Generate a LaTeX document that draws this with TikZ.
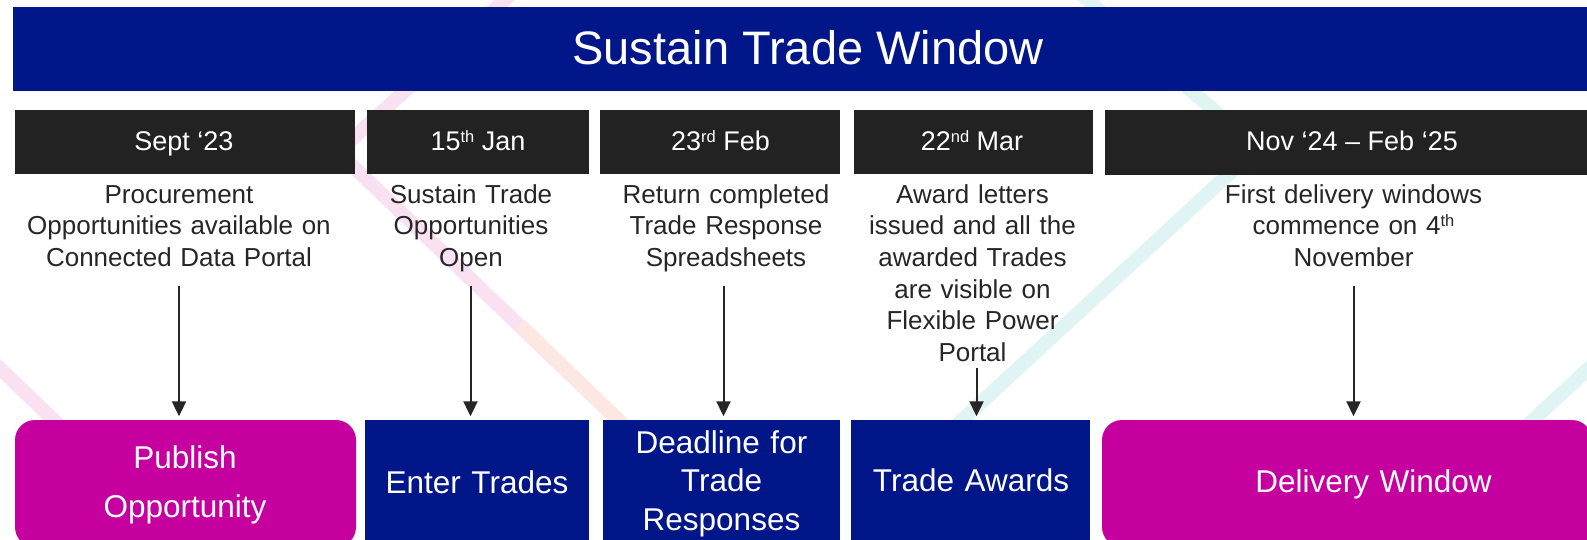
\documentclass[tikz,border=0pt]{standalone}
\usepackage{fontspec}
\setmainfont{Liberation Sans}
\usetikzlibrary{arrows.meta}
\definecolor{titleblue}{HTML}{001689}
\definecolor{magentabox}{HTML}{C6009F}
\definecolor{hdrblack}{HTML}{222222}
\definecolor{txtgray}{HTML}{262626}
\definecolor{pinkband}{HTML}{FAE1F1}
\definecolor{peachband}{HTML}{FCE7E1}
\definecolor{cyanband}{HTML}{E1F4F4}
\newcommand\supx[1]{\raisebox{8pt}{\fontsize{16.5}{16.5}\selectfont #1}}
\begin{document}
\begin{tikzpicture}[x=1pt,y=-1pt,
  band/.style={line width=14pt, line cap=butt, line join=miter},
  hdrbox/.style={fill=hdrblack, draw=none, inner sep=0pt, outer sep=0pt, minimum height=64.5pt},
  bluebox/.style={fill=titleblue, draw=none, inner sep=0pt, outer sep=0pt, minimum height=127pt},
  magbox/.style={fill=magentabox, draw=none, inner sep=0pt, outer sep=0pt, minimum height=127pt, rounded corners=20pt},
  hdrtext/.style={anchor=base, inner sep=0pt, text=white, font=\fontsize{27}{32}\selectfont},
  desctext/.style={anchor=base, inner sep=0pt, text=txtgray, text width=360pt, align=center, font=\fontsize{26}{31.7}\selectfont},
  boxtext/.style={anchor=base, inner sep=0pt, text=white, text width=330pt, align=center},
  arr/.style={draw=txtgray, line width=2pt, -{Triangle[length=15pt,width=14pt]}, shorten >=3.7pt}
]
\useasboundingbox (0,0) rectangle (1587,539);
\clip (0,0) rectangle (1587,539);
\fill[white] (0,0) rectangle (1587,539);

% faint background bands
\draw[band, pinkband] (510,-5) -- (338,152) -- (665,465);
\draw[band, peachband] (520,325) -- (665,465);
\draw[band, pinkband] (-40,330) -- (90,455);
\draw[band, cyanband] (1082,-5) -- (1257,148) -- (935,445);
\draw[band, cyanband] (1641,320) -- (1479,470);

% title bar
\fill[titleblue] (13,7) rectangle (1600,90.7);
\node[anchor=base, inner sep=0pt, text=white, font=\fontsize{47}{56}\selectfont] (title) at (808,64) {Sustain Trade Window};

% header boxes
\node[hdrbox, minimum width=340pt] (h1) at (185,141.75) {};
\node[hdrbox, minimum width=222pt] (h2) at (478,141.75) {};
\node[hdrbox, minimum width=240pt] (h3) at (720,141.75) {};
\node[hdrbox, minimum width=239pt] (h4) at (973.5,141.75) {};
\node[hdrbox, minimum width=490pt, minimum height=65.5pt] (h5) at (1350,142.25) {};

\node[hdrtext] (t1) at (184,150.5) {Sept ‘23};
\node[hdrtext] (t2) at (478,150.5) {15\supx{th} Jan};
\node[hdrtext] (t3) at (720.5,150.5) {23\supx{rd} Feb};
\node[hdrtext] (t4) at (972,150.5) {22\supx{nd} Mar};
\node[hdrtext] (t5) at (1352,150.5) {Nov ‘24 – Feb ‘25};

% descriptions
\node[desctext] (d1) at (179,203) {Procurement\\Opportunities available on\\Connected Data Portal};
\node[desctext] (d2) at (471,203) {Sustain Trade\\Opportunities\\Open};
\node[desctext] (d3) at (726,203) {Return completed\\Trade Response\\Spreadsheets};
\node[desctext] (d4) at (972.5,203) {Award letters\\issued and all the\\awarded Trades\\are visible on\\Flexible Power\\Portal};
\node[desctext] (d5) at (1353.5,203) {First delivery windows\\commence on 4\supx{th}\\November};

% bottom boxes
\node[magbox, minimum width=341pt] (b1) at (185.5,483.5) {};
\node[bluebox, minimum width=224pt] (b2) at (477,483.5) {};
\node[bluebox, minimum width=237pt] (b3) at (721.5,483.5) {};
\node[bluebox, minimum width=239pt] (b4) at (970.5,483.5) {};
\node[magbox, minimum width=490pt] (b5) at (1347,483.5) {};

\node[boxtext, font=\fontsize{31.5}{49}\selectfont] (bt1) at (185,468) {Publish\\Opportunity};
\node[boxtext, font=\fontsize{31.5}{38}\selectfont] (bt2) at (477,493) {Enter Trades};
\node[boxtext, font=\fontsize{31.5}{38.5}\selectfont] (bt3) at (721.5,453) {Deadline for\\Trade\\Responses};
\node[boxtext, font=\fontsize{31.5}{38}\selectfont] (bt4) at (971,491.5) {Trade Awards};
\node[boxtext, font=\fontsize{31.5}{38}\selectfont] (bt5) at (1373.5,492) {Delivery Window};

% arrows
\coordinate (s1) at (179,285.7);
\coordinate (s2) at (470.5,285.7);
\coordinate (s3) at (723.5,285.7);
\coordinate (s4) at (976.5,368);
\coordinate (s5) at (1353.5,285.7);
\draw[arr] (s1) -- (s1 |- b1.north);
\draw[arr] (s2) -- (s2 |- b2.north);
\draw[arr] (s3) -- (s3 |- b3.north);
\draw[arr] (s4) -- (s4 |- b4.north);
\draw[arr] (s5) -- (s5 |- b5.north);
\end{tikzpicture}
\end{document}
